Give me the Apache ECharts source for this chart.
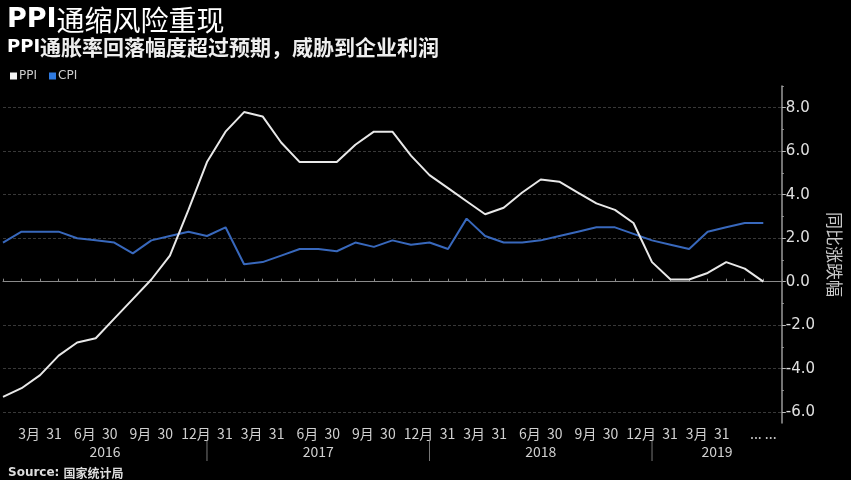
<!DOCTYPE html>
<html><head><meta charset="utf-8">
<script src="https://cdn.jsdelivr.net/npm/echarts@6/dist/echarts.min.js"></script>
<style>html,body{margin:0;padding:0;background:#000;}#c{width:851px;height:480px;}</style>
</head><body><div id="c"></div>
<script>
// monthly categories Jan 2016 .. Jun 2019, plus one empty slot at the end
const months = [
 '2016-01','2016-02','2016-03','2016-04','2016-05','2016-06','2016-07','2016-08','2016-09','2016-10','2016-11','2016-12',
 '2017-01','2017-02','2017-03','2017-04','2017-05','2017-06','2017-07','2017-08','2017-09','2017-10','2017-11','2017-12',
 '2018-01','2018-02','2018-03','2018-04','2018-05','2018-06','2018-07','2018-08','2018-09','2018-10','2018-11','2018-12',
 '2019-01','2019-02','2019-03','2019-04','2019-05','2019-06','2019-07'
];
const ppi = [
 -5.3,-4.9,-4.3,-3.4,-2.8,-2.6,-1.7,-0.8,0.1,1.2,3.3,5.5,
 6.9,7.8,7.6,6.4,5.5,5.5,5.5,6.3,6.9,6.9,5.8,4.9,
 4.3,3.7,3.1,3.4,4.1,4.7,4.6,4.1,3.6,3.3,2.7,0.9,
 0.1,0.1,0.4,0.9,0.6,0.0
];
const cpi = [
 1.8,2.3,2.3,2.3,2.0,1.9,1.8,1.3,1.9,2.1,2.3,2.1,
 2.5,0.8,0.9,1.2,1.5,1.5,1.4,1.8,1.6,1.9,1.7,1.8,
 1.5,2.9,2.1,1.8,1.8,1.9,2.1,2.3,2.5,2.5,2.2,1.9,
 1.7,1.5,2.3,2.5,2.7,2.7
];
const xTickLabels = [
 '','','3月  31','','','6月  30','','','9月  30','','','12月  31',
 '','','3月  31','','','6月  30','','','9月  30','','','12月  31',
 '','','3月  31','','','6月  30','','','9月  30','','','12月  31',
 '','','3月  31','','','... ...',''
];
const yearLabels = ['2016','2017','2018','2019'];
const yearBounds = [[0,11],[11,23],[23,35],[35,42]]; // category index span of each year
const yMajor = [-6,-4,-2,0,2,4,6,8];
const yMinor = [-5,-3,-1,1,3,5,7,9];

const FONT = 'Noto Sans CJK SC';
const chart = echarts.init(document.getElementById('c'));
const option = {
  backgroundColor: '#000',
  animation: false,
  textStyle: {fontFamily: FONT},
  title: [{
    left: 2, top: 1,
    text: '{a|PPI}{b|通缩风险重现}',
    textStyle: {rich: {
      a: {fontSize: 27, fontWeight: 'bold', color: '#fff', fontFamily: 'DejaVu Sans'},
      b: {fontSize: 28, fontWeight: 'normal', color: '#fff', fontFamily: FONT}
    }}
  },{
    left: 2, top: 32,
    text: '{a|PPI}{b|通胀率回落幅度超过预期，威胁到企业利润}',
    textStyle: {rich: {
      a: {fontSize: 18, fontWeight: 'bold', color: '#fff', fontFamily: 'DejaVu Sans'},
      b: {fontSize: 21, fontWeight: 'bold', color: '#eee', fontFamily: FONT}
    }}
  },{
    left: 3, top: 462,
    text: '{a|Source: }{b|国家统计局}',
    textStyle: {rich: {
      a: {fontSize: 12, fontWeight: 'bold', color: '#ddd', fontFamily: 'DejaVu Sans'},
      b: {fontSize: 12, fontWeight: 'bold', color: '#ddd', fontFamily: FONT}
    }}
  }],
  legend: {
    left: 5, top: 65,
    itemWidth: 7, itemHeight: 7, itemGap: 12,
    icon: 'rect',
    textStyle: {color: '#ccc', fontSize: 12, fontFamily: 'DejaVu Sans', padding: [0,0,0,-3]},
    data: [{name: 'PPI', itemStyle: {color: '#f2f2f2'}}, {name: 'CPI', itemStyle: {color: '#2f7ae0'}}]
  },
  grid: {left: 0, right: 62, top: 86, bottom: 57, containLabel: false},
  xAxis: [{
    type: 'category', data: months, boundaryGap: false,
    axisLine: {show: true, lineStyle: {color: '#8a8a8a', width: 1}},
    axisTick: {show: true, inside: true, length: 3, interval: 0, lineStyle: {color: '#888'}},
    axisLabel: {
      interval: 0, color: '#d0d0d0', fontSize: 14, margin: 4, fontFamily: FONT,
      formatter: (v, i) => xTickLabels[i]
    },
    splitLine: {show: false}
  }],
  yAxis: [{
    type: 'value', position: 'right', min: -6.5, max: 9,
    axisLine: {show: true, lineStyle: {color: '#9a9a9a', width: 1.5}},
    axisTick: {show: true, length: 4, customValues: yMajor, lineStyle: {color: '#bbb'}},
    axisLabel: {customValues: yMajor, color: '#e0e0e0', fontSize: 15, margin: 4, fontFamily: 'DejaVu Sans',
      formatter: v => v.toFixed(1)},
    splitLine: {show: true, lineStyle: {color: '#383838', type: [3, 2], width: 1}},
    name: '同比涨跌幅', nameLocation: 'middle', nameGap: 40, nameRotate: -90,
    nameTextStyle: {color: '#c8c8c8', fontSize: 17, fontFamily: FONT}
  },{
    type: 'value', position: 'right', min: -6.5, max: 9,
    axisLine: {show: false},
    axisTick: {show: true, length: 2, customValues: yMinor, lineStyle: {color: '#999'}},
    axisLabel: {show: false},
    splitLine: {show: false}
  }],
  series: [{
    name: 'PPI', type: 'line', data: ppi, symbol: 'none', z: 3,
    lineStyle: {color: '#e8e8e8', width: 2},
    itemStyle: {color: '#f2f2f2'}
  },{
    name: 'CPI', type: 'line', data: cpi, symbol: 'none', z: 2,
    lineStyle: {color: '#3868bc', width: 2},
    itemStyle: {color: '#2f7ae0'}
  }]
};
chart.setOption(option);

// year labels and separators placed via the axis scale
const axisY = chart.convertToPixel({yAxisIndex: 0}, -6.5);
const gfx = [];
yearBounds.forEach((b, k) => {
  const x0 = chart.convertToPixel({xAxisIndex: 0}, b[0]);
  const x1 = chart.convertToPixel({xAxisIndex: 0}, b[1]);
  gfx.push({type: 'text', x: (x0 + x1) / 2, y: axisY + 29,
    style: {text: yearLabels[k], fill: '#d0d0d0', font: '14px "' + FONT + '"', align: 'center', verticalAlign: 'middle'}});
  if (k > 0) {
    gfx.push({type: 'line', shape: {x1: x0, y1: axisY + 18, x2: x0, y2: axisY + 38},
      style: {stroke: '#777', lineWidth: 1}});
  }
});
chart.setOption({graphic: gfx});
</script></body></html>
